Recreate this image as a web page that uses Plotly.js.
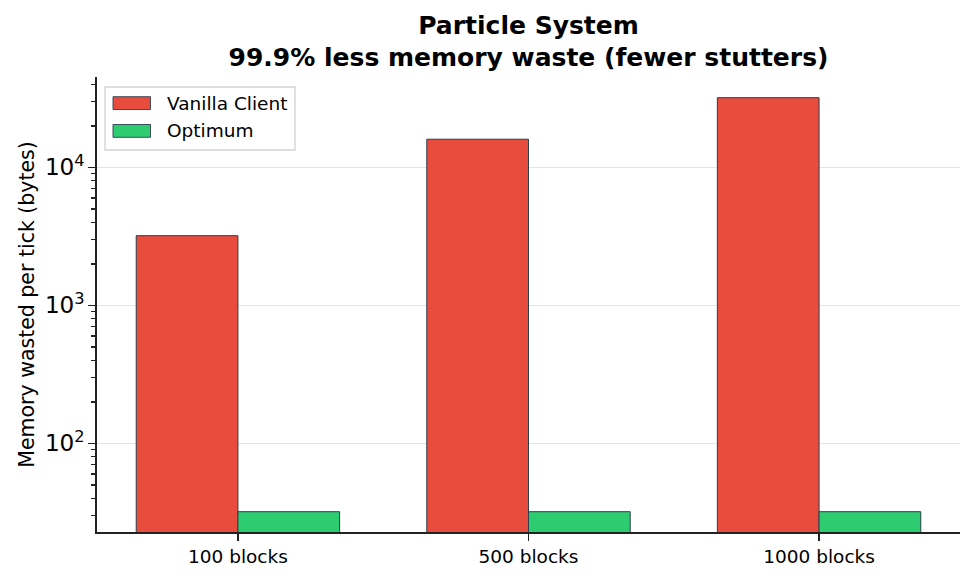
<!DOCTYPE html>
<html>
<head>
<meta charset="utf-8">
<script src="https://cdn.plot.ly/plotly-3.0.1.min.js"></script>
<style>html,body{margin:0;padding:0;background:#fff;}#chart{width:974px;height:581px;}</style>
</head>
<body>
<div id="chart"></div>
<script>
const categories = ["100 blocks", "500 blocks", "1000 blocks"];
const vanillaValues = [3200, 16000, 32000];
const optimumValues = [32, 32, 32];
const seriesNames = ["Vanilla Client", "Optimum"];
const seriesColors = ["#e74c3c", "#2ecc71"];
const titleText = "<b>Particle System</b><br><b>99.9% less memory waste (fewer stutters)</b>";
const yTitle = "Memory wasted per tick (bytes)";

const FONT = "DejaVu Sans, sans-serif";
const EDGE = "#2c3e50";
const edge = {color: EDGE, width: 1};

const traces = [
  {type: "bar", name: seriesNames[0], x: categories, y: vanillaValues,
   marker: {color: seriesColors[0], line: edge}},
  {type: "bar", name: seriesNames[1], x: categories, y: optimumValues,
   marker: {color: seriesColors[1], line: edge}}
];

// plot area in pixels (for the hand-placed legend box)
const M = {l: 97, r: 14, t: 77, b: 49};
const PW = 974 - M.l - M.r, PH = 581 - M.t - M.b;
const px = v => (v - M.l) / PW;
const py = v => (581 - M.b - v) / PH;

const shapes = [
  {type: "rect", xref: "paper", yref: "paper", x0: px(105), x1: px(295), y0: py(150), y1: py(87),
   line: {color: "#d4d4d4", width: 1.4}, fillcolor: "rgba(255,255,255,0.85)", layer: "above"}
];
const annotations = [];
seriesNames.forEach((name, i) => {
  const top = 96.7 + i * 27.8;
  shapes.push({type: "rect", xref: "paper", yref: "paper", x0: px(113), x1: px(150.5),
    y0: py(top + 12.8), y1: py(top), line: {color: EDGE, width: 0.9}, fillcolor: seriesColors[i], layer: "above"});
  annotations.push({xref: "paper", yref: "paper", x: px(165), y: py(top + 6.4), xanchor: "left", yanchor: "middle",
    text: name, showarrow: false, font: {family: FONT, size: 18.5, color: "#000"}});
});

const layout = {
  width: 974, height: 581,
  paper_bgcolor: "#fff", plot_bgcolor: "#fff",
  font: {family: FONT, color: "#000", size: 19},
  margin: {l: M.l, r: M.r, t: M.t, b: M.b, pad: 0},
  barmode: "group", bargap: 0.3, bargroupgap: 0,
  showlegend: false,
  shapes: shapes,
  annotations: annotations,
  title: {text: titleText, x: 0.5, xref: "paper", xanchor: "center",
          y: 0.942, yref: "container", yanchor: "top",
          font: {family: FONT, size: 25, color: "#000"}},
  xaxis: {type: "category", range: [-0.485, 2.485],
          showline: true, linecolor: "#222", linewidth: 1.7, mirror: false,
          ticks: "outside", ticklen: 7, tickwidth: 1.7, tickcolor: "#222",
          showgrid: false, zeroline: false,
          tickfont: {family: FONT, size: 18.5, color: "#000"}},
  yaxis: {type: "log", range: [1.358, 4.655], dtick: 1, tick0: 0,
          exponentformat: "power",
          showline: true, linecolor: "#222", linewidth: 1.7, mirror: false,
          ticks: "outside", ticklen: 7, tickwidth: 1.7, tickcolor: "#222",
          showgrid: true, gridcolor: "#e5e5e5", gridwidth: 1.5, zeroline: false,
          minor: {ticks: "outside", ticklen: 4.5, tickwidth: 1.3, tickcolor: "#222", dtick: "D1", showgrid: false},
          tickfont: {family: FONT, size: 18.5, color: "#000"},
          title: {text: yTitle, font: {family: FONT, size: 20.5, color: "#000"}, standoff: 5}}
};

Plotly.newPlot("chart", traces, layout, {displayModeBar: false, staticPlot: true});
</script>
</body>
</html>
